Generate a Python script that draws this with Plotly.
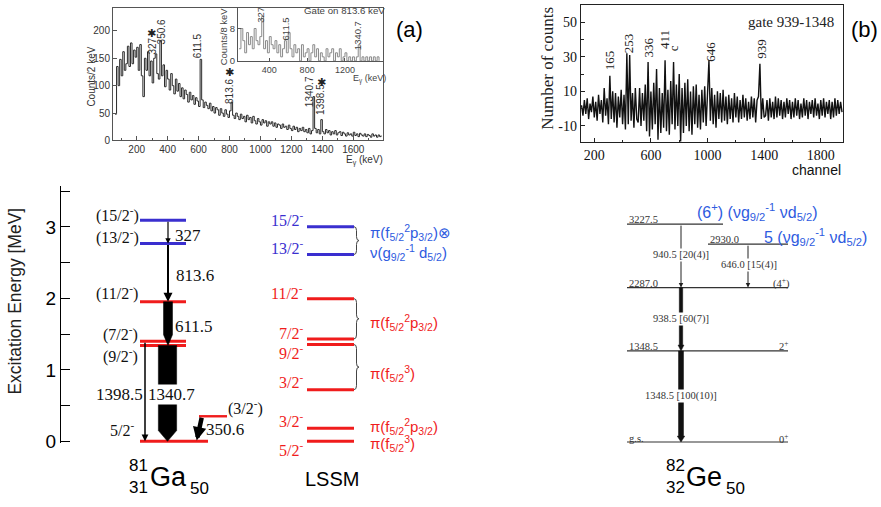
import plotly.graph_objects as go

W, H = 881, 507
SANS = "Liberation Sans, Arial, sans-serif"
SERIF = "Liberation Serif, Times New Roman, serif"

# ---------------- data ----------------
# (a) singles spectrum, 10 keV bins starting at 60 keV (counts / 2 keV)
spec_a_start, spec_a_step = 60, 10
spec_a_counts = [
    48, 135, 100, 148, 118, 162, 128, 140, 172, 135,
    178, 140, 165, 152, 170, 128, 175, 118, 80, 150,
    128, 162, 118, 145, 105, 150, 158, 122, 112, 182,
    118, 138, 98, 128, 112, 92, 122, 100, 85, 112,
    90, 104, 80, 96, 76, 92, 84, 70, 88, 74,
    82, 66, 78, 72, 62, 148, 74, 60, 70, 64,
    58, 68, 54, 62, 50, 60, 56, 46, 58, 50,
    44, 56, 48, 42, 54, 70, 46, 40, 50, 44,
    38, 48, 40, 44, 34, 46, 38, 42, 32, 44,
    36, 30, 40, 34, 28, 38, 32, 36, 26, 34,
    30, 34, 26, 32, 24, 30, 28, 22, 30, 24,
    26, 20, 28, 22, 18, 26, 20, 24, 16, 22,
    18, 24, 16, 20, 14, 22, 12, 18, 80, 22,
    14, 20, 12, 38, 16, 12, 20, 14, 18, 10,
    16, 12, 18, 10, 14, 16, 9, 15, 12, 8,
    14, 10, 12, 8, 15, 9, 12, 7, 13, 10,
    8, 12, 7, 11, 9, 6, 12, 8, 10, 6,
    10, 7, 9,
]
peak_a_labels = ["327", "350.6", "611.5", "813.6", "1340.7", "1398.5"]
peak_a_star = [True, False, False, True, False, True]

# (a) inset: gate on 813.6 keV, 20 keV bins starting at 80 keV (counts / 8 keV)
inset_start, inset_step = 80, 20
inset_counts = [
    3, 8, 5, 2, 7, 4, 6, 3, 8, 5,
    4, 6, 11, 3, 5, 2, 6, 4, 3, 5,
    2, 4, 1, 3, 5, 2, 7, 3, 1, 4,
    2, 3, 0, 4, 1, 2, 3, 0, 2, 4,
    1, 3, 0, 2, 1, 0, 3, 1, 2, 3,
    0, 2, 1, 3, 0, 1, 2, 0, 1, 0,
    1, 0, 1, 4, 0, 1, 0, 1, 0, 1,
    0, 1, 0, 1, 0,
]
inset_labels = ["327", "611.5", "1340.7"]

# (b) gated spectrum, 10-channel steps starting at channel 110
spec_b_start, spec_b_step = 110, 10
spec_b_counts = [
    2, -4, 5, -3, 6, -6, 3, -2, 7, -5,
    4, -7, 8, -3, 5, -8, 12, -4, 6, -9,
    19, -6, 10, -8, 9, -11, 7, -5, 11, -9,
    8, -12, 32, -9, 31, -7, 9, -11, 12, -6,
    -8, 12, -10, 9, -7, 14, -13, 27, -16, 10,
    -12, 15, -9, 23, -18, 12, -14, 9, -11, 28,
    -13, 11, -15, 16, -9, 27, -12, 14, -10, 20,
    -19, 12, -14, 15, -10, 17, -13, 10, -15, 13,
    -9, 14, -11, 8, -12, 11, -8, 13, -10, 9,
    28, -7, 12, -9, 8, -11, 10, -6, 9, -8,
    11, -7, 7, -9, 8, -6, 6, -8, 9, -5,
    7, -8, 5, -6, 8, -5, 6, -7, 4, -6,
    7, -5, 6, -8, 5, 7, 26, -6, 6, -5,
    -4, 5, -7, 6, -5, 4, -6, 7, -5, 6,
    -4, 5, -6, 4, -5, 6, -3, 5, -6, 4,
    -5, 6, -4, 5, -6, 3, -5, 6, -4, 5,
    -6, 4, -3, 5, -5, 6, -4, 3, -6, 5,
    -4, 6, -5, 4, -3, 5, -6, 4, -5, 6,
    -4, 5, -3, 4, -2,
]
peak_b_labels = ["165", "253", "336", "411", "c", "646", "939"]

# 81Ga level scheme (keV)
ga_energy = [0.0, 350.6, 1340.7, 1398.5, 1952.2, 2765.8, 3092.8]
ga_spin = ["5/2<sup>-</sup>", "(3/2<sup>-</sup>)", "(9/2<sup>-</sup>)", "(7/2<sup>-</sup>)",
           "(11/2<sup>-</sup>)", "(13/2<sup>-</sup>)", "(15/2<sup>-</sup>)"]
ga_group = ["r", "r", "r", "r", "r", "b", "b"]
# transitions: (label, initial level index, final level index)
ga_trans = [("327", 6, 5), ("813.6", 5, 4), ("611.5", 4, 2),
            ("1340.7", 2, 0), ("1398.5", 3, 0), ("350.6", 1, 0)]

# LSSM calculation (MeV)
lssm_energy = [0.0, 0.183, 0.723, 1.354, 1.433, 1.996, 2.614, 3.003]
lssm_spin = ["5/2<sup>-</sup>", "3/2<sup>-</sup>", "3/2<sup>-</sup>", "9/2<sup>-</sup>",
             "7/2<sup>-</sup>", "11/2<sup>-</sup>", "13/2<sup>-</sup>", "15/2<sup>-</sup>"]
lssm_group = ["r", "r", "r", "r", "r", "r", "b", "b"]

# 82Ge level scheme (keV)
ge_energy = [0.0, 1348.5, 2287.0, 2930.0, 3227.5]
ge_name = ["g.s.", "1348.5", "2287.0", "2930.0", "3227.5"]
ge_spin = ["0<sup>+</sup>", "2<sup>+</sup>", "(4<sup>+</sup>)", "", ""]
ge_trans = [("940.5 [20(4)]", 4, 2), ("646.0 [15(4)]", 3, 2),
            ("938.5 [60(7)]", 2, 1), ("1348.5 [100(10)]", 1, 0)]

# ---------------- helpers ----------------
def pxx(x):
    return x / W


def pyy(y):
    return 1 - y / H


ann = []
shapes = []


def txt(x, y, s, size, color="#000", family=SANS, angle=0, xanchor="center", bg=None):
    d = dict(x=pxx(x), y=pyy(y), xref="paper", yref="paper", text=s, showarrow=False,
             font=dict(family=family, size=size, color=color), textangle=angle,
             xanchor=xanchor, yanchor="middle")
    if bg:
        d["bgcolor"] = bg
        d["borderpad"] = 0
    ann.append(d)


RED = "#f01c1c"
BLUE_LINE = "#3a2fcf"
BLUE_LBL = "#3a2fcf"
BLUE_TXT = "#2e5be0"

fig = go.Figure()

# ---------------- panel (a) ----------------
xa = [spec_a_start + i * spec_a_step for i in range(len(spec_a_counts))]
fig.add_trace(go.Scatter(x=xa, y=spec_a_counts, mode="lines", line=dict(color="#2a2a2a", width=1, shape="hv"),
                         xaxis="x", yaxis="y", hoverinfo="skip"))
xi = [inset_start + i * inset_step for i in range(len(inset_counts))]
fig.add_trace(go.Scatter(x=xi, y=inset_counts, mode="lines", line=dict(color="#8a8a8a", width=1, shape="hv"),
                         xaxis="x2", yaxis="y2", hoverinfo="skip"))

peak_a_pos = [(152.7, 46.7, 151.0, 34.3), (161.5, 32.5, None, None), (198.3, 46.7, None, None),
              (229.3, 93.3, 229.3, 74.3), (309.5, 93.3, None, None), (321.0, 101.7, 321.0, 84.0)]
for lab, star, (lx, ly, sx, sy) in zip(peak_a_labels, peak_a_star, peak_a_pos):
    txt(lx, ly, lab, 10, "#333", SANS, -90)
    if star:
        txt(sx, sy, "✱", 11, "#222", "DejaVu Sans")
inset_pos = [(261, 15), (285, 30), (358.3, 36.5)]
for lab, (lx, ly) in zip(inset_labels, inset_pos):
    txt(lx, ly, lab, 9.5, "#444", SANS, -90)
txt(344, 11, "Gate on 813.6 keV", 9.7, "#444")
txt(223.3, 36.7, "Counts/8 keV", 9.5, "#444", SANS, -90)
txt(388, 80, "E<sub>γ</sub> (keV)", 9, "#444", xanchor="right")
txt(92, 78, "Counts/2 keV", 10, "#333", SANS, -90)
txt(385, 163, "E<sub>γ</sub> (keV)", 10, "#333", xanchor="right")
txt(409.5, 30, "(a)", 22, "#000")

# ---------------- panel (b) ----------------
xb = [spec_b_start + i * spec_b_step for i in range(len(spec_b_counts))]
fig.add_trace(go.Scatter(x=xb, y=spec_b_counts, mode="lines", line=dict(color="#111", width=1.4),
                         xaxis="x3", yaxis="y3", hoverinfo="skip"))
peak_b_pos = [(609.7, 61.7), (628, 44), (648, 48.3), (664.7, 40), (673, 49), (709.7, 53), (760.7, 50)]
for lab, (lx, ly) in zip(peak_b_labels, peak_b_pos):
    txt(lx, ly, lab, 13, "#222", SERIF, -90)
txt(791, 22, "gate 939-1348", 15, "#222", SERIF)
txt(548, 70, "Number of counts", 17, "#222", SERIF, -90)
txt(816, 173, "channel", 14, "#111")
txt(864, 30, "(b)", 22, "#000")

# ---------------- 81Ga level scheme ----------------
SC = 72.8  # px per MeV
ga_x = {0: (140, 208), 1: (199, 227)}
for i, e in enumerate(ga_energy):
    x0, x1 = ga_x.get(i, (140, 186))
    col = RED if ga_group[i] == "r" else BLUE_LINE
    fig.add_trace(go.Scatter(x=[x0, x1], y=[e / 1000, e / 1000], mode="lines",
                             line=dict(color=col, width=2.4 if i == 1 else 3),
                             xaxis="x4", yaxis="y4", hoverinfo="skip"))


def arrow_poly(xc, top, bot, w, hw, hl):
    xs = [xc - w / 2, xc + w / 2, xc + w / 2, xc + hw / 2, xc, xc - hw / 2, xc - w / 2, xc - w / 2]
    ys = [top, top, bot + hl, bot + hl, bot, bot + hl, bot + hl, top]
    return xs, ys


thick_ga = {"611.5": (168, 9, 9, 11), "1340.7": (167.5, 18.3, 18.3, 11)}
thin_ga = {"327": (168, 1.2, 0.9), "813.6": (168, 2.0, 0.9), "1398.5": (145, 1.5, 0.9)}
for lab, i0, i1 in ga_trans:
    top, bot = ga_energy[i0] / 1000, ga_energy[i1] / 1000
    if lab in thick_ga:
        xc, w, hw, hlp = thick_ga[lab]
        xs, ys = arrow_poly(xc, top, bot, w, hw, hlp / SC)
        fig.add_trace(go.Scatter(x=xs, y=ys, mode="lines", fill="toself", fillcolor="#000",
                                 line=dict(color="#000", width=0.5), xaxis="x4", yaxis="y4", hoverinfo="skip"))
    elif lab in thin_ga:
        xc, w, sz = thin_ga[lab]
        ann.append(dict(x=xc, y=bot, ax=xc, ay=top, xref="x4", yref="y4", axref="x4", ayref="y4",
                        text="", showarrow=True, arrowhead=2, arrowsize=sz, arrowwidth=w,
                        arrowcolor="#000", standoff=0, startstandoff=0))
    else:  # 350.6 diagonal
        ann.append(dict(x=196.7, y=bot + 0.01, ax=202, ay=top, xref="x4", yref="y4", axref="x4", ayref="y4",
                        text="", showarrow=True, arrowhead=2, arrowsize=0.6, arrowwidth=4.5,
                        arrowcolor="#000", standoff=0, startstandoff=0))

ga_lbl_pos = [(122, 437), (245, 415), (120, 362), (120, 340), (117, 298), (117, 241), (117, 218)]
for s, (lx, ly) in zip(ga_spin, ga_lbl_pos):
    txt(lx, ly, s, 16, "#111", SERIF)
trans_lbl_pos = {"327": (188, 240), "813.6": (195, 280), "611.5": (194, 332),
                 "1340.7": (171, 402), "1398.5": (119, 402), "350.6": (225.5, 437)}
for lab, _, _ in ga_trans:
    lx, ly = trans_lbl_pos[lab]
    txt(lx, ly, lab, 17, "#111", SERIF, bg="white" if lab == "1340.7" else None)

txt(15, 307, "Excitation Energy [MeV]", 17.5, "#222", SANS, -90)
txt(138, 474, "81", 17, "#000")
txt(138, 496, "31", 17, "#000")
txt(168, 486, "Ga", 27, "#000")
txt(199, 497, "50", 17, "#000")

# ---------------- LSSM ----------------
lssm_lbl_y = [457, 428, 388, 358, 338, 297, 251, 223]
for e, s, g, ly in zip(lssm_energy, lssm_spin, lssm_group, lssm_lbl_y):
    col = RED if g == "r" else BLUE_LINE
    fig.add_trace(go.Scatter(x=[307, 354], y=[e, e], mode="lines", line=dict(color=col, width=3),
                             xaxis="x4", yaxis="y4", hoverinfo="skip"))
    txt(305, ly, s, 16, RED if g == "r" else BLUE_LBL, SERIF, xanchor="right")


def brace(x, top, bot, w=2.5):
    d = 4 / SC
    mid = (top + bot) / 2
    return (f"M {x},{top} Q {x + w},{top} {x + w},{top - d} L {x + w},{mid + d} "
            f"Q {x + w},{mid} {x + 2 * w},{mid} Q {x + w},{mid} {x + w},{mid - d} "
            f"L {x + w},{bot + d} Q {x + w},{bot} {x},{bot}")


for i_top, i_bot in [(7, 6), (5, 4), (3, 2)]:
    shapes.append(dict(type="path", xref="x4", yref="y4",
                       path=brace(354, lssm_energy[i_top], lssm_energy[i_bot]),
                       line=dict(color="#444", width=1)))

P2 = "π(f<sub>5/2</sub><sup>2</sup>p<sub>3/2</sub>)"
P3 = "π(f<sub>5/2</sub><sup>3</sup>)"
txt(368, 237, P2 + "⊗", 15, BLUE_TXT, xanchor="left")
txt(368, 257, "ν(g<sub>9/2</sub><sup>-1</sup> d<sub>5/2</sub>)", 15, BLUE_TXT, xanchor="left")
txt(368, 328, P2, 15, RED, xanchor="left")
txt(368, 380, P3, 15, RED, xanchor="left")
txt(368, 434, P2, 15, RED, xanchor="left")
txt(368, 452, P3, 15, RED, xanchor="left")
txt(332, 488, "LSSM", 20, "#000")

# ---------------- 82Ge level scheme ----------------
GSC = 0.06874  # px per keV
ge_x = {3: (708, 788), 4: (627, 723)}
ge_name_pos = [(627, 446.7), (627, 352.7), (627, 288.3), (708, 244), (627, 223.5)]
ge_spin_pos = [(783, 446), (783, 352), (781, 288)]
for i, e in enumerate(ge_energy):
    x0, x1 = ge_x.get(i, (627, 788))
    fig.add_trace(go.Scatter(x=[x0, x1], y=[e, e], mode="lines", line=dict(color="#333", width=1.2),
                             xaxis="x5", yaxis="y5", hoverinfo="skip"))
    txt(ge_name_pos[i][0], ge_name_pos[i][1], ge_name[i], 10.5, "#333", SERIF, xanchor="left")
    if ge_spin[i]:
        txt(ge_spin_pos[i][0], ge_spin_pos[i][1], ge_spin[i], 10.5, "#333", SERIF)

ge_tr_x = {"940.5 [20(4)]": (681, 1.0), "646.0 [15(4)]": (748, 1.0),
           "938.5 [60(7)]": (681, 3.4), "1348.5 [100(10)]": (681, 5.0)}
ge_tr_lbl = {"940.5 [20(4)]": (681, 260), "646.0 [15(4)]": (749, 270),
             "938.5 [60(7)]": (681, 325), "1348.5 [100(10)]": (681, 403)}
for lab, i0, i1 in ge_trans:
    top, bot = ge_energy[i0], ge_energy[i1]
    xc, w = ge_tr_x[lab]
    if w > 2:
        xs, ys = arrow_poly(xc, top, bot, w, w + 2.5, 6 / GSC)
        fig.add_trace(go.Scatter(x=xs, y=ys, mode="lines", fill="toself", fillcolor="#111",
                                 line=dict(color="#111", width=0.5), xaxis="x5", yaxis="y5", hoverinfo="skip"))
    else:
        ann.append(dict(x=xc, y=bot, ax=xc, ay=top, xref="x5", yref="y5", axref="x5", ayref="y5",
                        text="", showarrow=True, arrowhead=2, arrowsize=0.9, arrowwidth=w,
                        arrowcolor="#222", standoff=0, startstandoff=0))
    lx, ly = ge_tr_lbl[lab]
    txt(lx, ly, lab, 10.5, "#333", SERIF, bg="white")

txt(695, 216, "(6<sup>+</sup>) (νg<sub>9/2</sub><sup>-1</sup> νd<sub>5/2</sub>)", 16, BLUE_TXT, xanchor="left")
txt(762, 241, "5 (νg<sub>9/2</sub><sup>-1</sup> νd<sub>5/2</sub>)", 16, BLUE_TXT, xanchor="left")
txt(675, 474, "82", 17, "#000")
txt(675, 496, "32", 17, "#000")
txt(704, 486, "Ge", 27, "#000")
txt(735, 497, "50", 17, "#000")

# ---------------- layout ----------------
common = dict(showgrid=False, zeroline=False)
fa = dict(family=SANS, size=10, color="#333")
fb = dict(family=SERIF, size=14, color="#111")
bot4, top4 = 450.9, 189

fig.update_layout(
    width=W, height=H, margin=dict(l=0, r=0, t=0, b=0), autosize=False,
    paper_bgcolor="white", plot_bgcolor="white", showlegend=False,
    xaxis=dict(domain=[pxx(113), pxx(383)], range=[47, 1792], anchor="y", showline=True, mirror=True,
               linecolor="#555", ticks="inside", ticklen=4, tickcolor="#555",
               tickvals=[200, 400, 600, 800, 1000, 1200, 1400, 1600], tickfont=fa,
               minor=dict(ticks="inside", ticklen=2, tickcolor="#555",
                          tickvals=[100, 300, 500, 700, 900, 1100, 1300, 1500, 1700]), **common),
    yaxis=dict(domain=[pyy(143), pyy(8)], range=[0, 242], anchor="x", showline=True, mirror=True,
               linecolor="#555", ticks="inside", ticklen=4, tickcolor="#555",
               tickvals=[0, 50, 100, 150, 200], tickfont=fa, **common),
    xaxis2=dict(domain=[pxx(238), pxx(383)], range=[69, 1602], anchor="y2", showline=True, mirror=True,
                linecolor="#555", ticks="inside", ticklen=3, tickcolor="#555",
                tickvals=[400, 800, 1200], tickfont=dict(family=SANS, size=9, color="#444"), **common),
    yaxis2=dict(domain=[pyy(62), pyy(8)], range=[0, 13.1], anchor="x2", showline=True, mirror=True,
                linecolor="#555", ticks="inside", ticklen=3, tickcolor="#555",
                tickvals=[0, 8], tickfont=dict(family=SANS, size=9.5, color="#444"), **common),
    xaxis3=dict(domain=[pxx(580.7), pxx(843)], range=[104, 1957], anchor="y3", showline=True, mirror=True,
                linecolor="#222", ticks="inside", ticklen=4, tickcolor="#222",
                tickvals=[200, 600, 1000, 1400, 1800], tickfont=fb,
                minor=dict(ticks="inside", ticklen=2, tickcolor="#222", tickvals=[400, 800, 1200, 1600]),
                **common),
    yaxis3=dict(domain=[pyy(145), pyy(5)], range=[-19.5, 60], anchor="x3", showline=True, mirror=True,
                linecolor="#222", ticks="inside", ticklen=4, tickcolor="#222",
                tickvals=[-10, 10, 30, 50], ticktext=["-10", "10", "30", "50"], tickfont=fb,
                minor=dict(ticks="inside", ticklen=3, tickcolor="#222", tickvals=[0, 20, 40]), **common),
    xaxis4=dict(domain=[pxx(61), pxx(530)], range=[61, 530], anchor="y4", visible=False, **common),
    yaxis4=dict(domain=[pyy(bot4), pyy(top4)], range=[-0.022, 3.577], anchor="x4", showline=True,
                linecolor="#000", linewidth=1.3, ticks="inside", ticklen=9, tickwidth=1.2, tickcolor="#000",
                tickvals=[0, 1, 2, 3], tickfont=dict(family=SANS, size=19, color="#000"),
                minor=dict(ticks="inside", ticklen=9, tickwidth=1.2, tickcolor="#000",
                           tickvals=[0.5, 1.5, 2.5, 3.5]), **common),
    xaxis5=dict(domain=[pxx(560), 1.0], range=[560, 881], anchor="y5", visible=False, **common),
    yaxis5=dict(domain=[pyy(bot4), pyy(top4)], range=[-13, 3797], anchor="x5", visible=False, **common),
    annotations=ann,
    shapes=shapes,
)

fig.write_html("out.html")
